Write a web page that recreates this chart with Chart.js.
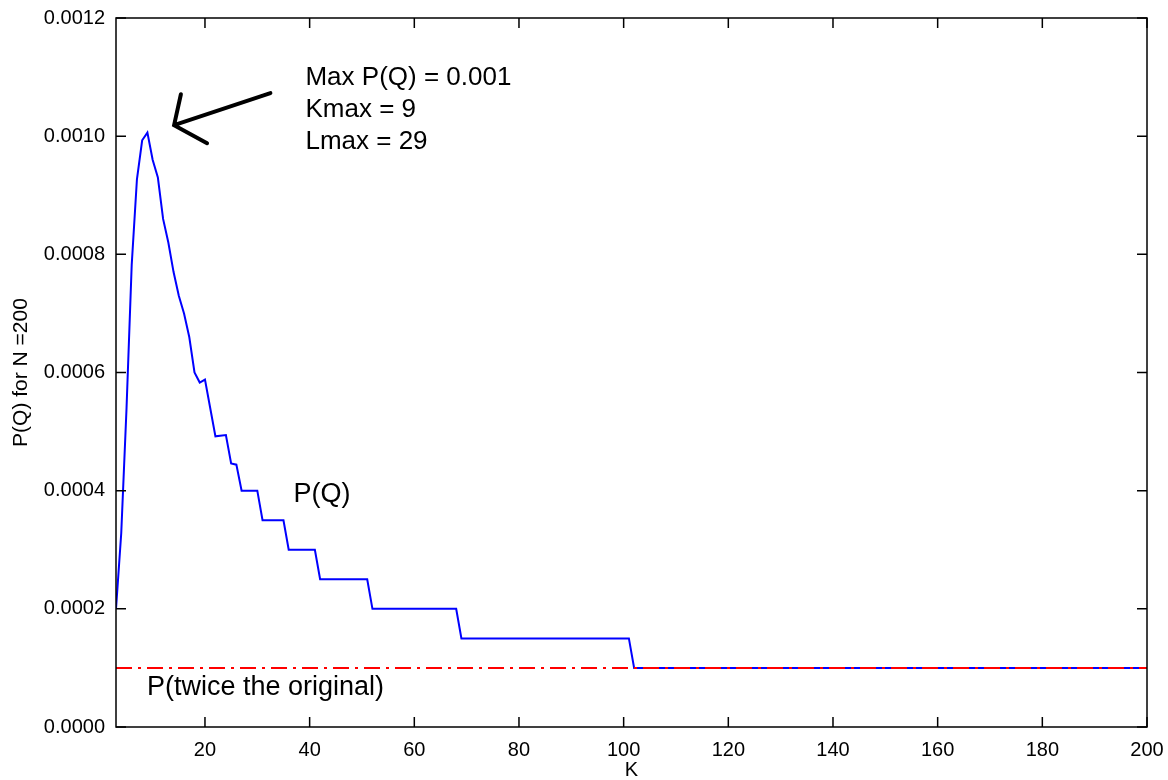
<!DOCTYPE html>
<html>
<head>
<meta charset="utf-8">
<script src="https://cdn.jsdelivr.net/npm/chart.js@4.4.1/dist/chart.umd.min.js"></script>
<style>
body { margin: 0; background: #fff; }
#wrap { width: 1168px; height: 780px; }
</style>
</head>
<body>
<div id="wrap"><canvas id="pq" width="1168" height="780"></canvas></div>
<script>
// P(Q) curve (corner points of the steps)
var kValues = [3, 4, 5, 6, 7, 8, 9, 10, 11, 12, 13, 14, 15, 16, 17, 18, 19, 20, 21, 22, 24, 25, 26, 27, 30, 31, 35, 36, 41, 42, 51, 52, 68, 69, 101, 102, 200];
var pValues = [0.0002, 0.000328, 0.000537, 0.000782, 0.000927, 0.000993, 0.001006, 0.00096, 0.00093, 0.00086, 0.00082, 0.00077, 0.00073, 0.0007, 0.00066, 0.0006, 0.000583, 0.000588, 0.00054, 0.000492, 0.000494, 0.000446, 0.000444, 0.0004, 0.0004, 0.00035, 0.00035, 0.0003, 0.0003, 0.00025, 0.00025, 0.0002, 0.0002, 0.00015, 0.00015, 0.0001, 0.0001];

// reference level P(twice the original)
var refK = [3, 200];
var refP = [0.0001, 0.0001];

var xTicks = [20, 40, 60, 80, 100, 120, 140, 160, 180, 200];
var yTicks = [0, 0.0002, 0.0004, 0.0006, 0.0008, 0.0010, 0.0012];

var notes = [
  {text: 'Max P(Q) = 0.001', k: 39.2, p: 0.001098, size: 26},
  {text: 'Kmax = 9', k: 39.2, p: 0.001044, size: 26},
  {text: 'Lmax = 29', k: 39.2, p: 0.00099, size: 26},
  {text: 'P(Q)', k: 36.9, p: 0.000393, size: 27},
  {text: 'P(twice the original)', k: 8.9, p: 0.000066, size: 27}
];
// arrow: tail, tip, two head ends
var arrowK = [32.5, 14.1, 15.4, 20.4];
var arrowP = [0.001073, 0.0010186, 0.001071, 0.000988];

var FONT = "'Liberation Sans', Arial, sans-serif";

function pts(ks, ps) {
  return ks.map(function (k, i) { return {x: k, y: ps[i]}; });
}

var boxPlugin = {
  id: 'box',
  afterDraw: function (chart) {
    var c = chart.ctx, a = chart.chartArea;
    var xs = chart.scales.x, ys = chart.scales.y;
    var tl = 10;
    c.save();
    c.strokeStyle = '#000';
    c.lineWidth = 1.5;
    c.strokeRect(a.left, a.top, a.right - a.left, a.bottom - a.top);
    c.beginPath();
    xTicks.forEach(function (v) {
      var px = xs.getPixelForValue(v);
      c.moveTo(px, a.bottom); c.lineTo(px, a.bottom - tl);
      c.moveTo(px, a.top); c.lineTo(px, a.top + tl);
    });
    yTicks.forEach(function (v) {
      var py = ys.getPixelForValue(v);
      c.moveTo(a.left, py); c.lineTo(a.left + tl, py);
      c.moveTo(a.right, py); c.lineTo(a.right - tl, py);
    });
    c.stroke();

    // text notes
    c.fillStyle = '#000';
    c.textBaseline = 'middle';
    c.textAlign = 'left';
    notes.forEach(function (n) {
      c.font = n.size + 'px ' + FONT;
      c.fillText(n.text, xs.getPixelForValue(n.k), ys.getPixelForValue(n.p));
    });

    // arrow
    var px = arrowK.map(function (k) { return xs.getPixelForValue(k); });
    var py = arrowP.map(function (p) { return ys.getPixelForValue(p); });
    c.lineWidth = 4;
    c.lineCap = 'round';
    c.beginPath();
    c.moveTo(px[0], py[0]); c.lineTo(px[1], py[1]);
    c.moveTo(px[2], py[2]); c.lineTo(px[1], py[1]); c.lineTo(px[3], py[3]);
    c.stroke();
    c.restore();
  }
};

new Chart(document.getElementById('pq'), {
  type: 'line',
  data: {
    datasets: [{
      label: 'P(twice the original)',
      data: pts(refK, refP),
      borderColor: '#ff0000',
      borderWidth: 2,
      borderDash: [16, 6, 3, 6],
      pointRadius: 0,
      order: 0
    }, {
      label: 'P(Q)',
      data: pts(kValues, pValues),
      borderColor: '#0000ff',
      borderWidth: 2,
      pointRadius: 0,
      tension: 0,
      order: 1
    }]
  },
  options: {
    responsive: false,
    animation: false,
    layout: { padding: { top: 18, right: 21, left: 0, bottom: 0 } },
    plugins: { legend: { display: false }, tooltip: { enabled: false } },
    scales: {
      x: {
        type: 'linear',
        min: 3,
        max: 200,
        grid: { display: false },
        border: { display: false },
        afterBuildTicks: function (s) { s.ticks = xTicks.map(function (v) { return {value: v}; }); },
        afterFit: function (s) { s.height = 53; },
        ticks: { color: '#000', padding: 3, font: { family: FONT, size: 20 }, maxRotation: 0 },
        title: { display: true, text: 'K', color: '#000', padding: 0, font: { family: FONT, size: 20, lineHeight: 1 } }
      },
      y: {
        type: 'linear',
        min: 0,
        max: 0.0012,
        grid: { display: false },
        border: { display: false },
        afterBuildTicks: function (s) { s.ticks = yTicks.map(function (v) { return {value: v}; }); },
        afterFit: function (s) { s.width = 116; },
        ticks: {
          color: '#000', padding: 3, font: { family: FONT, size: 20 },
          callback: function (v) { return v.toFixed(4); }
        },
        title: { display: true, text: 'P(Q) for N =200', color: '#000', padding: { top: 11, bottom: 0 }, font: { family: FONT, size: 21, lineHeight: 1 } }
      }
    }
  },
  plugins: [boxPlugin]
});
</script>
</body>
</html>
